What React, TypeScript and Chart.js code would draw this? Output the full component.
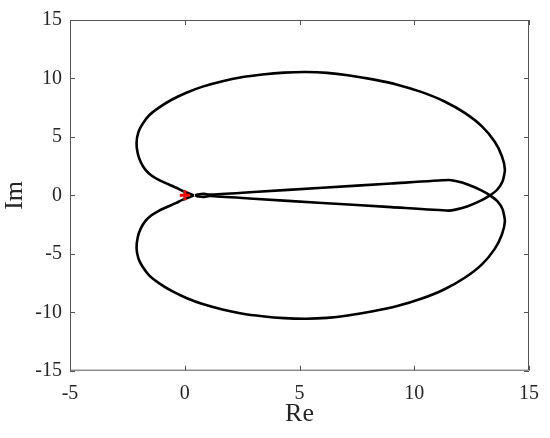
import React, { useEffect, useRef } from "react";
import { Chart, registerables } from "chart.js";

Chart.register(...registerables);

// Branch with the upper lobe (Im > 0), closing through the lower wedge line
const upperRe = [0.40, -0.11, -0.39, -0.78, -1.11, -1.45, -1.72, -1.92, -2.05, -2.10, -2.02, -1.85, -1.55, -1.11, -0.55, 0.07, 0.78, 1.60, 2.47, 3.38, 4.33, 5.30, 6.20, 7.10, 8.20, 9.26, 10.30, 11.30, 12.20, 12.95, 13.50, 13.82, 13.95, 13.85, 13.62, 13.30, 12.90, 12.30, 11.80, 11.49, 9.00, 6.00, 3.00, 1.10, 0.85, 0.62, 0.45];
const upperIm = [0.00, 0.39, 0.67, 1.00, 1.30, 1.70, 2.20, 2.85, 3.60, 4.50, 5.40, 6.07, 6.85, 7.53, 8.20, 8.78, 9.30, 9.74, 10.10, 10.34, 10.50, 10.55, 10.48, 10.28, 9.92, 9.47, 8.85, 8.05, 7.05, 5.90, 4.60, 3.35, 2.20, 1.20, 0.50, 0.00, -0.45, -0.95, -1.22, -1.31, -1.01, -0.65, -0.29, -0.06, -0.13, -0.10, 0.00];

// Branch with the lower lobe (Im < 0), closing through the upper wedge line
const lowerRe = [0.40, -0.11, -0.39, -0.78, -1.11, -1.45, -1.72, -1.92, -2.05, -2.10, -2.02, -1.85, -1.55, -1.11, -0.55, 0.07, 0.78, 1.60, 2.47, 3.38, 4.33, 5.30, 6.20, 7.10, 8.20, 9.26, 10.30, 11.30, 12.20, 12.95, 13.50, 13.82, 13.95, 13.85, 13.62, 13.30, 12.90, 12.30, 11.80, 11.49, 9.00, 6.00, 3.00, 1.10, 0.85, 0.62, 0.45];
const lowerIm = [0.00, -0.39, -0.67, -1.00, -1.30, -1.70, -2.20, -2.85, -3.60, -4.50, -5.40, -6.07, -6.85, -7.53, -8.20, -8.78, -9.30, -9.74, -10.10, -10.34, -10.50, -10.55, -10.48, -10.28, -9.92, -9.47, -8.85, -8.05, -7.05, -5.90, -4.60, -3.35, -2.20, -1.20, -0.50, 0.00, 0.45, 0.95, 1.22, 1.31, 1.01, 0.65, 0.29, 0.06, 0.13, 0.10, 0.00];

// Critical point marker
const markerRe = [0];
const markerIm = [0];

const xTicks = [-5, 0, 5, 10, 15];
const yTicks = [-15, -10, -5, 0, 5, 10, 15];

const FONT = "'Liberation Serif', 'Times New Roman', serif";

const toPoints = (xs: number[], ys: number[]) => xs.map((x, i) => ({ x, y: ys[i] }));

const boxPlugin = {
  id: "boxTicks",
  afterDraw(chart: any) {
    const { ctx, chartArea, scales } = chart;
    const { left, right, top, bottom } = chartArea;
    const len = 5;
    ctx.save();
    ctx.strokeStyle = "#555555";
    ctx.lineWidth = 1;
    ctx.beginPath();
    ctx.rect(left + 0.5, top + 0.5, right - left - 1, bottom - top - 1);
    xTicks.forEach((v) => {
      const px = Math.round(scales.x.getPixelForValue(v)) + 0.5;
      ctx.moveTo(px, bottom);
      ctx.lineTo(px, bottom - len);
      ctx.moveTo(px, top);
      ctx.lineTo(px, top + len);
    });
    yTicks.forEach((v) => {
      const py = Math.round(scales.y.getPixelForValue(v)) + 0.5;
      ctx.moveTo(left, py);
      ctx.lineTo(left + len, py);
      ctx.moveTo(right, py);
      ctx.lineTo(right - len, py);
    });
    ctx.stroke();
    ctx.restore();
  },
};

export default function App() {
  const ref = useRef<HTMLCanvasElement>(null);

  useEffect(() => {
    if (!ref.current) return;
    const lineDs = (xs: number[], ys: number[]) => ({
      data: toPoints(xs, ys),
      showLine: true,
      borderColor: "#000000",
      borderWidth: 2.6,
      pointRadius: 0,
      tension: 0.2,
    });
    const chart = new Chart(ref.current, {
      type: "scatter",
      data: {
        datasets: [
          {
            data: toPoints(markerRe, markerIm),
            showLine: false,
            pointStyle: "cross",
            pointRadius: 5,
            pointBorderWidth: 3,
            pointBorderColor: "#ff0000",
            pointBackgroundColor: "#ff0000",
          },
          lineDs(upperRe, upperIm),
          lineDs(lowerRe, lowerIm),
        ] as any,
      },
      options: {
        animation: false,
        responsive: false,
        layout: { padding: { top: 18.5, right: 17, left: 0, bottom: 0 } },
        plugins: {
          legend: { display: false },
          tooltip: { enabled: false },
        },
        scales: {
          x: {
            type: "linear",
            min: -5,
            max: 15,
            grid: { display: false, drawTicks: false },
            border: { display: false },
            afterBuildTicks: (s: any) => {
              s.ticks = xTicks.map((v) => ({ value: v }));
            },
            afterFit: (s: any) => {
              s.height = 67.3;
            },
            ticks: {
              padding: 11,
              color: "#262626",
              font: { family: FONT, size: 20 },
              maxRotation: 0,
            },
            title: {
              display: true,
              text: "Re",
              color: "#262626",
              font: { family: FONT, size: 26, lineHeight: 1 },
              padding: { top: 0, bottom: 11 },
            },
          },
          y: {
            type: "linear",
            min: -15,
            max: 15,
            grid: { display: false, drawTicks: false },
            border: { display: false },
            afterBuildTicks: (s: any) => {
              s.ticks = yTicks.map((v) => ({ value: v }));
            },
            afterFit: (s: any) => {
              s.width = 70;
            },
            ticks: {
              padding: 8,
              color: "#262626",
              font: { family: FONT, size: 20 },
            },
            title: {
              display: true,
              text: "Im",
              color: "#262626",
              font: { family: FONT, size: 26, lineHeight: 1 },
              padding: { top: 2, bottom: 0 },
            },
          },
        },
      } as any,
      plugins: [boxPlugin],
    });
    return () => chart.destroy();
  }, []);

  return (
    <div style={{ position: "absolute", left: 0, top: 0, width: 550, height: 438, background: "#ffffff" }}>
      <canvas ref={ref} width={550} height={438} style={{ display: "block" }} />
    </div>
  );
}
